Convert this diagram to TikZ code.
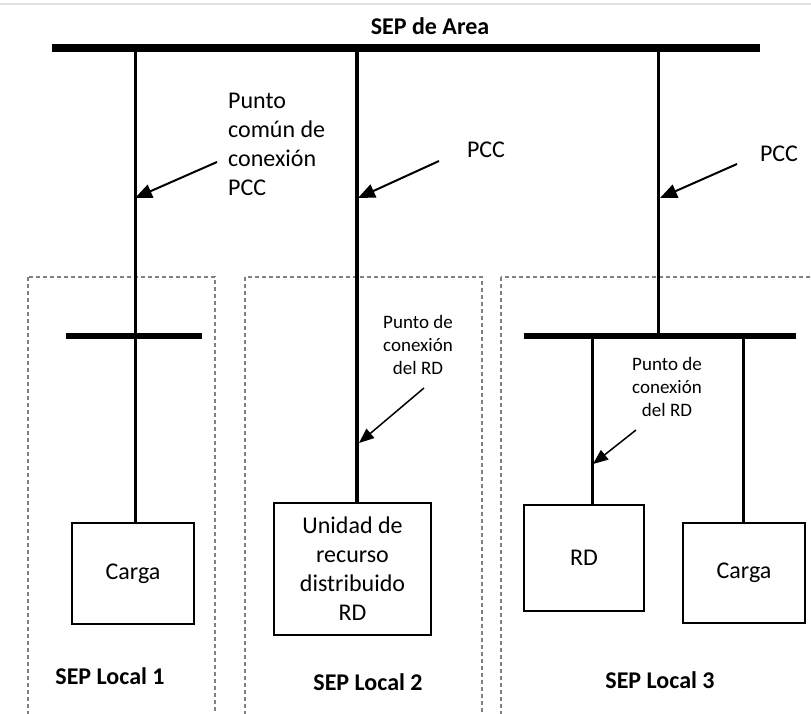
\documentclass[tikz,border=0pt]{standalone}
\usepackage{fontspec}
\setmainfont{Carlito}
\usetikzlibrary{arrows.meta}
\begin{document}
\begin{tikzpicture}[x=1pt,y=-1pt]
\tikzstyle{bus}=[line width=8pt]
\tikzstyle{localbus}=[line width=6pt]
\tikzstyle{feeder}=[line width=3pt]
\tikzstyle{zone}=[draw=black!50,line width=1.3pt,dash pattern=on 4pt off 3pt]
\tikzstyle{unit}=[draw,line width=1.6pt,inner sep=0pt,align=center,font=\fontsize{24}{29}\selectfont]
\tikzstyle{txt}=[inner sep=0pt,font=\fontsize{24}{29}\selectfont]
\tikzstyle{smalltxt}=[inner sep=0pt,align=center,font=\fontsize{19}{23}\selectfont]
\tikzstyle{title}=[inner sep=0pt,font=\bfseries\fontsize{24}{29}\selectfont]
\tikzstyle{pointer}=[line width=2pt,-{Triangle[length=17pt,width=14pt]}]
\tikzstyle{smallpointer}=[line width=1.5pt,-{Triangle[length=15pt,width=12pt]}]
\path[use as bounding box] (0,0) rectangle (811,713);
\draw[black!12,line width=1.5pt] (0,4) -- (811,4);
% local systems
\begin{scope}
\clip (0,0) rectangle (811,713);
\draw[zone] (28,277) rectangle (215,740);
\draw[zone] (245,277) rectangle (482,740);
\draw[zone] (501,277) rectangle (840,740);
\end{scope}
% buses
\coordinate (w) at (52,48);
\coordinate (e) at (760,48);
\coordinate (b1) at (135,48);
\coordinate (b2) at (357,48);
\coordinate (b3) at (658,48);
\coordinate (l1w) at (66,336);
\coordinate (l1e) at (202,336);
\coordinate (l3w) at (524,336);
\coordinate (l3e) at (796,336);
\coordinate (k3) at (658,336);
\coordinate (r3) at (592,336);
\coordinate (c3) at (743,336);
\node [title] (area) at (430,26) {SEP de Area};
\draw[bus] (w) -- (e);
\draw[localbus] (l1w) -- (l1e);
\draw[localbus] (l3w) -- (l3e);
% boxes
\node [unit,minimum width=122pt,minimum height=101pt] (c) at (133,573.5) {Carga};
\node [unit,line width=2.2pt,minimum width=157pt,minimum height=132pt] (u) at (352.5,569) {Unidad de\\recurso\\distribuido\\RD};
\node [unit,minimum width=120pt,minimum height=106pt] (r) at (584,558) {RD};
\node [unit,minimum width=122pt,minimum height=100pt] (d) at (744,573) {Carga};
\draw[feeder] (b1) -- (b1 |- c.north);
\draw[feeder,line width=4.5pt] (b2) -- (b2 |- u.north);
\draw[feeder] (b3) -- (k3);
\draw[feeder] (r3) -- (r3 |- r.north);
\draw[feeder] (c3) -- (c3 |- d.north);
% labels
\node [txt,align=left,anchor=west] (p1) at (228,144) {Punto\\común de\\conexión\\PCC};
\node [txt] (p2) at (486,150) {PCC};
\node [txt] (p3) at (779,154) {PCC};
\node [smalltxt] (q2) at (418,345) {Punto de\\conexión\\del RD};
\node [smalltxt] (q3) at (667,387) {Punto de\\conexión\\del RD};
\node [title] (s1) at (110,676) {SEP Local 1};
\node [title] (s2) at (368,682) {SEP Local 2};
\node [title] (s3) at (660,680) {SEP Local 3};
% pointers
\coordinate (a1) at (217,162);
\coordinate (t1) at (135,198);
\coordinate (a2) at (439,161);
\coordinate (t2) at (358,198);
\coordinate (a3) at (737,164);
\coordinate (t3) at (660,198);
\coordinate (a4) at (424,388);
\coordinate (t4) at (359,443);
\coordinate (a5) at (636,430);
\coordinate (t5) at (593,464);
\draw[pointer] (a1) -- (t1);
\draw[pointer] (a2) -- (t2);
\draw[pointer] (a3) -- (t3);
\draw[smallpointer] (a4) -- (t4);
\draw[smallpointer] (a5) -- (t5);
\end{tikzpicture}
\end{document}
